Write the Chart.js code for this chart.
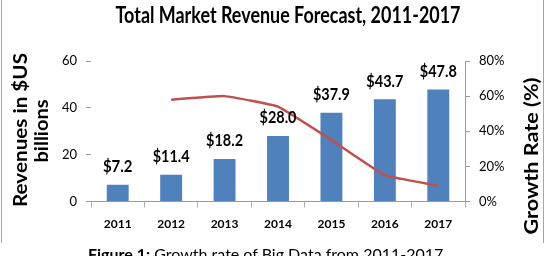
<!DOCTYPE html>
<html>
<head>
<meta charset="utf-8">
<script src="https://cdn.jsdelivr.net/npm/chart.js@4"></script>
<style>
  body { margin: 0; background: #fff; }
  #wrap { position: relative; width: 554px; height: 256px; overflow: hidden; }
  #frame { position: absolute; left: 1px; top: 0; width: 541px; height: 243px;
           border-left: 1px solid #a6a6a6; border-right: 1px solid #a6a6a6; }
  #caption { position: absolute; left: 88px; top: 244px; font: 16px Lato, sans-serif;
             white-space: nowrap; color: #000; }
  canvas { position: absolute; left: 0; top: 0; }
</style>
</head>
<body>
<div id="wrap">
  <div id="frame"></div>
  <canvas id="chart" width="554" height="256"></canvas>
  <div id="caption"><b>Figure 1:</b> Growth rate of Big Data from 2011-2017</div>
</div>
<script>
const years = ["2011", "2012", "2013", "2014", "2015", "2016", "2017"];
const revenue = [7.2, 11.4, 18.2, 28.0, 37.9, 43.7, 47.8];
const growth = [null, 58, 60, 54, 35, 15, 9];
const revenueTicks = [0, 20, 40, 60];
const growthTicks = [0, 20, 40, 60, 80];

const FONT = "Lato, 'Open Sans', sans-serif";

// draw text squeezed/stretched to a given width (Calibri is narrower than Lato)
function fitText(ctx, text, x, y, w, rot) {
  const m = ctx.measureText(text).width;
  ctx.save();
  ctx.translate(x, y);
  if (rot) ctx.rotate(rot);
  ctx.scale(w / m, 1);
  ctx.fillText(text, 0, 0);
  ctx.restore();
}

const textPlugin = {
  id: "texts",
  afterDatasetsDraw(chart) {
    const ctx = chart.ctx;
    ctx.save();
    ctx.fillStyle = "#000";
    ctx.textAlign = "center";
    ctx.textBaseline = "middle";

    // title
    ctx.font = "bold 22px " + FONT;
    fitText(ctx, "Total Market Revenue Forecast, 2011-2017", 288, 16, 345);

    // axis titles
    ctx.font = "bold 18px " + FONT;
    fitText(ctx, "Revenues in $US", 21, 130, 154, -Math.PI / 2);
    fitText(ctx, "billions", 42, 131, 63, -Math.PI / 2);
    fitText(ctx, "Growth Rate (%)", 532, 156, 157, -Math.PI / 2);

    // bar value labels
    ctx.font = "bold 17px " + FONT;
    const meta = chart.getDatasetMeta(0);
    meta.data.forEach((bar, i) => {
      const t = "$" + revenue[i].toFixed(1);
      fitText(ctx, t, bar.x, bar.y - 18, t.length * 7.4);
    });
    ctx.restore();
  }
};

new Chart(document.getElementById("chart"), {
  data: {
    labels: years,
    datasets: [
      {
        type: "bar",
        label: "Revenue",
        data: revenue,
        yAxisID: "y",
        backgroundColor: "#4F81BD",
        barPercentage: 0.41,
        categoryPercentage: 1,
        order: 1
      },
      {
        type: "line",
        label: "Growth rate",
        data: growth,
        yAxisID: "y1",
        borderColor: "#C0504D",
        borderWidth: 2.5,
        pointRadius: 0,
        tension: 0.1,
        fill: false,
        order: 0
      }
    ]
  },
  options: {
    responsive: false,
    animation: false,
    layout: { padding: { top: 61, left: 0, right: 0, bottom: 0 } },
    plugins: { legend: { display: false }, title: { display: false }, tooltip: { enabled: false } },
    scales: {
      x: {
        grid: { offset: true, drawOnChartArea: false, tickLength: 6, color: "#b0b0b0" },
        border: { color: "#9a9a9a" },
        ticks: { color: "#000", padding: 9, font: { family: FONT, size: 12, weight: "bold" } },
        afterFit: s => { s.height = 54.5; }
      },
      y: {
        position: "left",
        min: 0, max: 60,
        afterBuildTicks: s => { s.ticks = revenueTicks.map(v => ({ value: v })); },
        grid: { drawOnChartArea: false, tickLength: 5, color: "#9a9a9a" },
        border: { display: false },
        ticks: { color: "#000", padding: 9, font: { family: FONT, size: 13 } },
        afterFit: s => { s.width = 91; }
      },
      y1: {
        position: "right",
        min: 0, max: 80,
        afterBuildTicks: s => { s.ticks = growthTicks.map(v => ({ value: v })); },
        grid: { drawOnChartArea: false, tickLength: 5, color: "#9a9a9a" },
        border: { color: "#9a9a9a" },
        ticks: { color: "#000", padding: 9, font: { family: FONT, size: 13 }, callback: v => v + "%" },
        afterFit: s => { s.width = 89; }
      }
    }
  },
  plugins: [textPlugin]
});
</script>
</body>
</html>
